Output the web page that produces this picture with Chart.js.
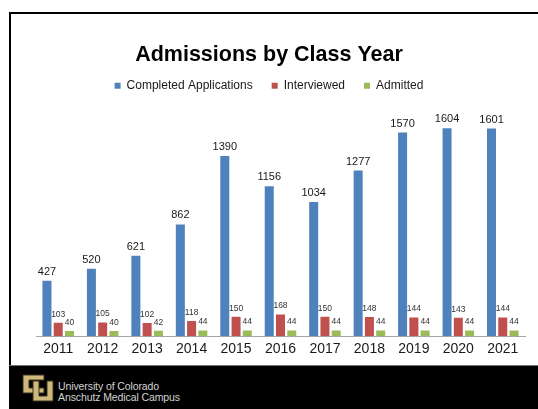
<!DOCTYPE html>
<html>
<head>
<meta charset="utf-8">
<script src="https://cdn.jsdelivr.net/npm/chart.js@4/dist/chart.umd.min.js"></script>
<style>
  html, body { margin: 0; padding: 0; background: #fff; width: 538px; height: 409px; overflow: hidden; position: relative; font-family: "Liberation Sans", Arial, sans-serif; }
  #frame { position: absolute; left: 9px; top: 12px; width: 540px; height: 353px; border-top: 2px solid #000; border-left: 2px solid #000; box-sizing: border-box; }
  #footer { position: absolute; left: 9px; top: 365px; width: 529px; height: 44px; background: #000; border-top: 1px solid #777; box-sizing: border-box; }
  #footer .txt { position: absolute; left: 49px; top: 15px; color: #d4d4d4; font-size: 10.5px; line-height: 10.5px; letter-spacing: -0.1px; }
  #logo { position: absolute; left: 13px; top: 8px; }
  #wrap { position: absolute; left: 0; top: 0; width: 538px; height: 365px; }
</style>
</head>
<body>
<div id="frame"></div>
<div id="footer">
  <svg id="logo" width="32" height="28" viewBox="0 0 32 28">
    <path d="M1 1 H22 V6 H7 V14 H22 V19 H1 Z" fill="#CFB87C" stroke="#3a3222" stroke-width="1"/>
    <path d="M11 7 H17 V22 H25 V7 H31 V27 H11 Z" fill="#CFB87C" stroke="#3a3222" stroke-width="1"/>
  </svg>
  <div class="txt">University of Colorado<br>Anschutz Medical Campus</div>
</div>
<div id="wrap"><canvas id="c" width="538" height="365"></canvas></div>
<script>
const years = ['2011','2012','2013','2014','2015','2016','2017','2018','2019','2020','2021'];
const completedApplications = [427, 520, 621, 862, 1390, 1156, 1034, 1277, 1570, 1604, 1601];
const interviewed = [103, 105, 102, 118, 150, 168, 150, 148, 144, 143, 144];
const admitted = [40, 40, 42, 44, 44, 44, 44, 44, 44, 44, 44];

const FONT = '"Liberation Sans", Arial, sans-serif';

const valueLabels = {
  id: 'valueLabels',
  afterDatasetsDraw(chart) {
    const ctx = chart.ctx;
    ctx.save();
    ctx.textAlign = 'center';
    ctx.textBaseline = 'middle';
    chart.data.datasets.forEach((ds, di) => {
      const meta = chart.getDatasetMeta(di);
      const big = di === 0;
      ctx.font = (big ? '11px ' : '8.5px ') + FONT;
      ctx.fillStyle = big ? '#1a1a1a' : '#333333';
      meta.data.forEach((el, i) => {
        ctx.fillText(String(ds.data[i]), el.x, el.y - (big ? 9 : 8.5));
      });
    });
    ctx.restore();
  }
};

new Chart(document.getElementById('c'), {
  type: 'bar',
  data: {
    labels: years,
    datasets: [
      { label: 'Completed Applications', data: completedApplications, backgroundColor: '#4F81BD' },
      { label: 'Interviewed', data: interviewed, backgroundColor: '#C0504D' },
      { label: 'Admitted', data: admitted, backgroundColor: '#9BBB59' }
    ]
  },
  options: {
    responsive: false,
    animation: false,
    devicePixelRatio: 1,
    categoryPercentage: 0.76,
    barPercentage: 0.8,
    layout: { padding: { left: 13, right: 13, top: 0, bottom: 2 } },
    plugins: {
      title: {
        display: true,
        text: 'Admissions by Class Year',
        color: '#000',
        font: { family: FONT, size: 21.5, weight: 'bold', lineHeight: 0.5 },
        padding: { top: 50, bottom: 0 }
      },
      legend: {
        display: true,
        labels: {
          color: '#1a1a1a',
          font: { family: FONT, size: 12 },
          boxWidth: 6,
          boxHeight: 6,
          padding: 19
        }
      },
      tooltip: { enabled: false }
    },
    scales: {
      x: {
        grid: { display: false, drawTicks: false },
        border: { display: true, color: '#a6a6a6', width: 1 },
        ticks: { color: '#1a1a1a', font: { family: FONT, size: 14 }, padding: 5 }
      },
      y: {
        display: true,
        min: 0,
        max: 1808,
        grid: { display: false, drawTicks: false },
        border: { display: false },
        ticks: { display: false },
        afterFit(scale) { scale.width = 23; }
      }
    }
  },
  plugins: [valueLabels]
});
</script>
</body>
</html>
